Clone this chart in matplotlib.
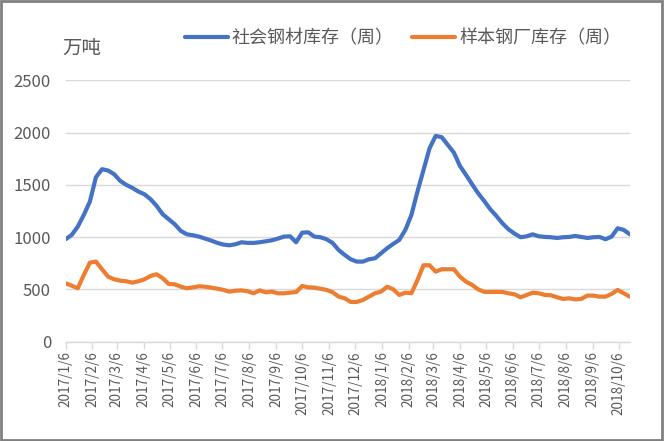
import numpy as np
import pandas as pd
import matplotlib
matplotlib.use("Agg")
from matplotlib import pyplot as plt
from matplotlib.patches import Rectangle

plt.rcParams['font.family'] = ['Noto Sans CJK SC', 'DejaVu Sans']

# weekly data, starting 2017/1/6
start_date = "2017-01-06"
social_stock = [980, 1021, 1100, 1212, 1340, 1573, 1650, 1637, 1602, 1538,
                1500, 1471, 1436, 1410, 1363, 1299, 1219, 1171, 1123, 1059,
                1027, 1018, 1005, 986, 967, 945, 929, 922, 932, 951,
                945, 945, 951, 960, 970, 986, 1005, 1008, 951, 1043,
                1046, 1005, 999, 980, 945, 877, 830, 788, 766, 766,
                788, 798, 846, 894, 935, 973, 1069, 1212, 1436, 1643,
                1851, 1968, 1956, 1882, 1809, 1681, 1595, 1506, 1420, 1346,
                1267, 1203, 1133, 1075, 1034, 999, 1008, 1027, 1008, 1002,
                999, 992, 999, 1002, 1011, 1002, 992, 999, 1002, 980,
                1005, 1085, 1069, 1027]
mill_stock = [559, 536, 511, 638, 756, 766, 693, 622, 597, 584,
              578, 565, 578, 597, 629, 645, 607, 552, 549, 526,
              511, 520, 530, 526, 517, 507, 495, 479, 488, 491,
              482, 463, 491, 472, 479, 463, 463, 469, 475, 533,
              520, 517, 507, 495, 474, 431, 415, 380, 380, 399,
              431, 463, 479, 526, 501, 447, 469, 463, 590, 731,
              731, 670, 693, 693, 693, 622, 574, 543, 501, 476,
              476, 476, 476, 463, 453, 425, 447, 469, 463, 447,
              444, 425, 409, 415, 405, 409, 441, 441, 431, 431,
              457, 495, 463, 431]
series_names = ["社会钢材库存（周）", "样本钢厂库存（周）"]
unit_label = "万吨"
y_ticks = [0, 500, 1000, 1500, 2000, 2500]

dates = pd.date_range(start_date, periods=len(social_stock), freq="7D")
tick_dates = pd.date_range(start_date, "2018-10-06", freq=pd.DateOffset(months=1))
tick_labels = [f"{d.year}/{d.month}/{d.day}" for d in tick_dates]

text_col = "#595959"
grid_col = "#d9d9d9"

fig = plt.figure(figsize=(6.64, 4.41), dpi=100)
ax = fig.add_axes([65.6/664, 99.3/441, (629.8-65.6)/664, (341.7-80.3)/441])

ax.plot(dates, social_stock, color="#4472C4", lw=3, label=series_names[0],
        solid_capstyle="round", solid_joinstyle="round")
ax.plot(dates, mill_stock, color="#ED7D31", lw=3, label=series_names[1],
        solid_capstyle="round", solid_joinstyle="round")

ax.set_ylim(0, 2500)
ax.set_yticks(y_ticks)
ax.set_xlim(dates[0], dates[-1])
ax.set_xticks(tick_dates)
ax.set_xticklabels(tick_labels, rotation=90, fontsize=9.8, color=text_col)
ax.tick_params(axis="y", length=0, labelsize=12, labelcolor=text_col, pad=10.5)
ax.tick_params(axis="x", length=5, width=1, color=grid_col, pad=2)
ax.grid(axis="y", color=grid_col, lw=1)
ax.set_axisbelow(True)
for s in ["top", "right", "left"]:
    ax.spines[s].set_visible(False)
ax.spines["bottom"].set_color(grid_col)
ax.spines["bottom"].set_linewidth(1)

fig.text(62/664, 1 - 48/441, unit_label, fontsize=14, color=text_col, va="center")
leg = fig.legend(loc="center", bbox_to_anchor=(403/664, 1 - 38/441), ncol=2,
                 frameon=False, fontsize=13, handlelength=2.4, handletextpad=0.2,
                 columnspacing=1.0, labelcolor=text_col)

fig.patches.append(Rectangle((0.002, 0.003), 0.995, 0.994, transform=fig.transFigure,
                             fill=False, edgecolor="#808080", lw=2))

fig.savefig("out.png", dpi=100)
